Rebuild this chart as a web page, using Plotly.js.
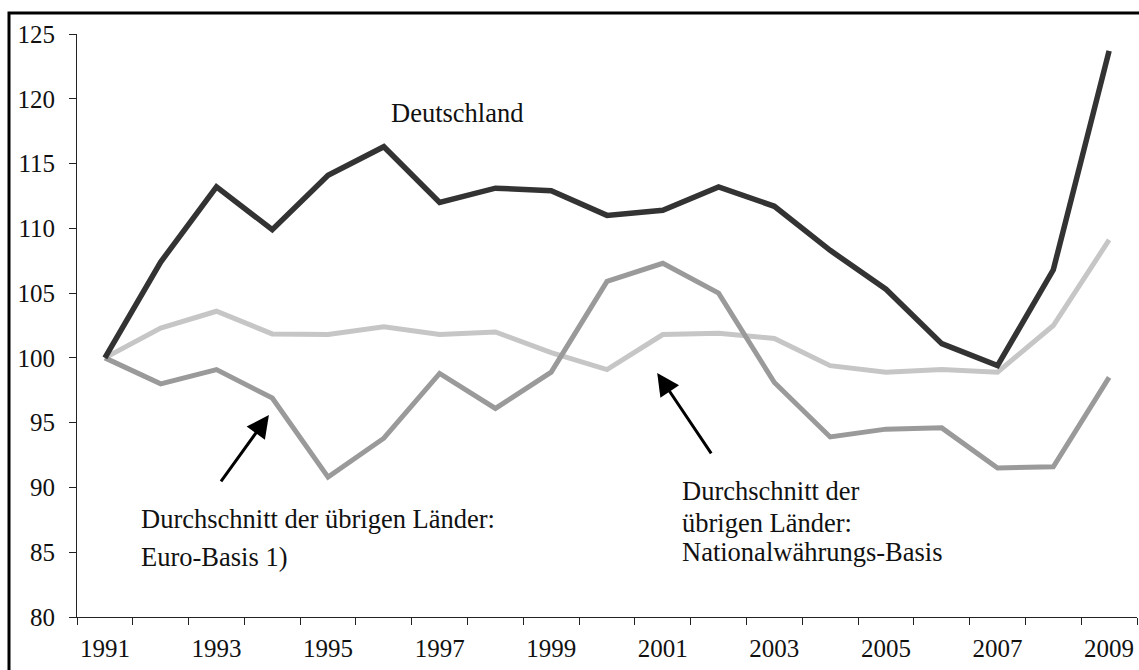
<!DOCTYPE html>
<html>
<head>
<meta charset="utf-8">
<script src="https://cdn.plot.ly/plotly-3.0.1.min.js"></script>
<style>html,body{margin:0;padding:0;background:#fff;}#chart{width:1139px;height:670px;}</style>
</head>
<body>
<div id="chart"></div>
<script>
const years = [1991,1992,1993,1994,1995,1996,1997,1998,1999,2000,2001,2002,2003,2004,2005,2006,2007,2008,2009];
const deutschland = [100,107.4,113.2,109.9,114.1,116.3,112.0,113.1,112.9,111.0,111.4,113.2,111.7,108.3,105.3,101.1,99.4,106.8,123.7];
const euroBasis = [100,98.0,99.1,96.9,90.8,93.8,98.8,96.1,98.9,105.9,107.3,105.0,98.1,93.9,94.5,94.6,91.5,91.6,98.5];
const nationalBasis = [100,102.3,103.6,101.85,101.8,102.4,101.8,102.0,100.4,99.1,101.8,101.9,101.5,99.4,98.9,99.1,98.9,102.5,109.1];
const xTickLabels = ['1991','1993','1995','1997','1999','2001','2003','2005','2007','2009'];
const xTickVals = xTickLabels.map(Number);
const yTickVals = [80,85,90,95,100,105,110,115,120,125];

const labelDeutschland = 'Deutschland';
const labelEuro = ['Durchschnitt der übrigen Länder:', 'Euro-Basis 1)'];
const labelNational = ['Durchschnitt der', 'übrigen Länder:', 'Nationalwährungs-Basis'];

const serif = 'Liberation Serif, Times New Roman, serif';

const traces = [
  {x: years, y: nationalBasis, mode: 'lines', line: {color: '#c6c6c6', width: 5}, hoverinfo: 'skip'},
  {x: years, y: euroBasis, mode: 'lines', line: {color: '#9a9a9a', width: 5}, hoverinfo: 'skip'},
  {x: years, y: deutschland, mode: 'lines', line: {color: '#333333', width: 5.5}, hoverinfo: 'skip'}
];

const txt = (text, x, y, xanchor) => ({
  x: x, y: y, xref: 'x', yref: 'y', text: text, showarrow: false,
  xanchor: xanchor, yanchor: 'middle', borderpad: 0,
  font: {family: serif, size: 26.5, color: '#111'}
});

const annotations = [
  txt(labelDeutschland, 1997.31, 118.9, 'center'),
  txt(labelEuro[0], 1991.63, 87.6, 'left'),
  txt(labelEuro[1], 1991.63, 84.6, 'left'),
  txt(labelNational[0], 2001.33, 89.75, 'left'),
  txt(labelNational[1], 2001.33, 87.25, 'left'),
  txt(labelNational[2], 2001.33, 85.0, 'left'),
  {x: 1993.94, y: 95.6, xref: 'x', yref: 'y', text: '', showarrow: true,
   ax: -49, ay: 68, arrowhead: 2, arrowsize: 1.5, arrowwidth: 3, arrowcolor: '#000'},
  {x: 2000.90, y: 98.84, xref: 'x', yref: 'y', text: '', showarrow: true,
   ax: 55, ay: 82, arrowhead: 2, arrowsize: 1.5, arrowwidth: 3, arrowcolor: '#000'}
];

const layout = {
  width: 1139, height: 670,
  margin: {l: 77, r: 2, t: 34, b: 53, pad: 0},
  paper_bgcolor: '#fff', plot_bgcolor: '#fff',
  showlegend: false,
  font: {family: serif, size: 25, color: '#111'},
  xaxis: {
    range: [1990.5, 2009.5], showgrid: false, zeroline: false,
    showline: true, linecolor: '#222', linewidth: 1,
    tickmode: 'array', tickvals: xTickVals, ticktext: xTickLabels,
    ticks: '', ticklabelstandoff: 9, tickfont: {family: serif, size: 25, color: '#111'},
    minor: {tickmode: 'linear', tick0: 1990.5, dtick: 1, ticks: 'outside', ticklen: 7, tickwidth: 1, tickcolor: '#222', showgrid: false}
  },
  yaxis: {
    range: [80, 125], showgrid: false, zeroline: false,
    showline: true, linecolor: '#222', linewidth: 1,
    tickmode: 'array', tickvals: yTickVals,
    ticks: 'outside', ticklen: 7, tickwidth: 1, tickcolor: '#222',
    ticklabelstandoff: 9,
    tickfont: {family: serif, size: 25, color: '#111'}
  },
  annotations: annotations,
  shapes: [
    {type: 'rect', xref: 'paper', yref: 'paper',
     x0: (9 - 77) / 1060, x1: (1142 - 77) / 1060,
     y0: (617 - 673) / 583, y1: (617 - 13) / 583,
     line: {color: '#000', width: 3}, fillcolor: 'rgba(0,0,0,0)', layer: 'above'}
  ]
};

Plotly.newPlot('chart', traces, layout, {staticPlot: true, displayModeBar: false});
</script>
</body>
</html>
